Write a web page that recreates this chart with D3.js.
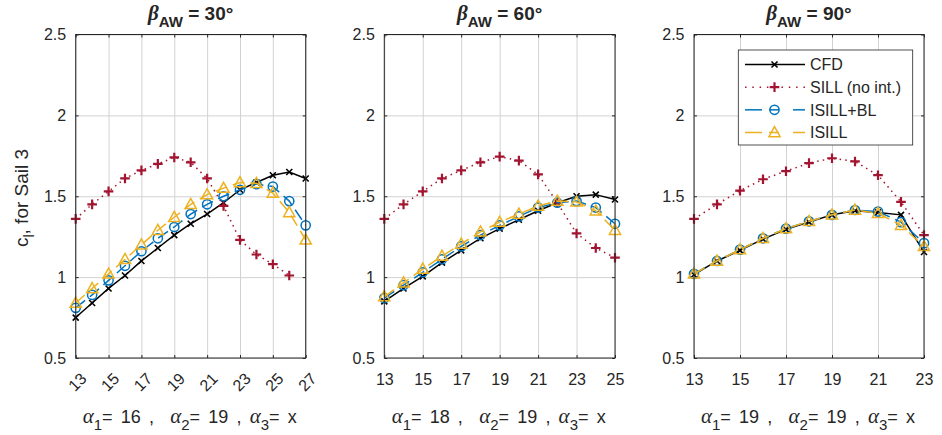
<!DOCTYPE html>
<html>
<head>
<meta charset="utf-8">
<script src="https://cdn.jsdelivr.net/npm/d3@7"></script>
<style>
  html, body { margin: 0; padding: 0; background: #fff; }
  svg { display: block; }
  text { font-family: "Liberation Sans", Arial, Helvetica, sans-serif; fill: #262626; }
</style>
</head>
<body>
<svg id="chart" width="942" height="435"></svg>
<script>
// ---------------- DATA ----------------
const yTicks = [0.5, 1, 1.5, 2, 2.5];
const seriesNames = ["CFD", "SILL (no int.)", "ISILL+BL", "ISILL"];
const betaLabels = ["30°", "60°", "90°"];
const alpha1Labels = ["16", "18", "19"];
const alpha2Labels = ["19", "19", "19"];

// beta = 30
const x30 = [13, 14, 15, 16, 17, 18, 19, 20, 21, 22, 23, 24, 25, 26, 27];
const xTicks30 = [13, 15, 17, 19, 21, 23, 25, 27];
const cfd30 = [0.75, 0.84, 0.93, 1.01, 1.10, 1.18, 1.26, 1.33, 1.39, 1.46, 1.54, 1.585, 1.63, 1.65, 1.61];
const sillX30 = [13, 14, 15, 16, 17, 18, 19, 20, 21, 22, 23, 24, 25, 26];
const sill30 = [1.36, 1.45, 1.53, 1.61, 1.66, 1.70, 1.74, 1.71, 1.61, 1.44, 1.23, 1.14, 1.08, 1.01];
const isillbl30 = [0.81, 0.89, 0.98, 1.07, 1.16, 1.24, 1.31, 1.39, 1.45, 1.50, 1.54, 1.575, 1.56, 1.47, 1.32];
const isill30 = [0.84, 0.93, 1.02, 1.11, 1.20, 1.29, 1.37, 1.45, 1.51, 1.55, 1.585, 1.58, 1.52, 1.40, 1.23];

// beta = 60
const x60 = [13, 14, 15, 16, 17, 18, 19, 20, 21, 22, 23, 24, 25];
const xTicks60 = [13, 15, 17, 19, 21, 23, 25];
const cfd60 = [0.85, 0.93, 1.005, 1.09, 1.165, 1.24, 1.30, 1.355, 1.41, 1.46, 1.50, 1.51, 1.48];
const sill60 = [1.36, 1.45, 1.53, 1.61, 1.66, 1.71, 1.745, 1.72, 1.635, 1.46, 1.27, 1.18, 1.12];
const isillbl60 = [0.87, 0.95, 1.03, 1.11, 1.19, 1.26, 1.32, 1.375, 1.43, 1.46, 1.47, 1.43, 1.33];
const isill60 = [0.88, 0.965, 1.05, 1.13, 1.205, 1.28, 1.34, 1.39, 1.44, 1.47, 1.465, 1.41, 1.29];

// beta = 90
const x90 = [13, 14, 15, 16, 17, 18, 19, 20, 21, 22, 23];
const xTicks90 = [13, 15, 17, 19, 21, 23];
const cfd90 = [1.015, 1.10, 1.165, 1.235, 1.295, 1.34, 1.385, 1.41, 1.40, 1.385, 1.155];
const sill90 = [1.36, 1.45, 1.535, 1.605, 1.655, 1.705, 1.735, 1.715, 1.63, 1.465, 1.26];
const isillbl90 = [1.02, 1.10, 1.17, 1.24, 1.30, 1.345, 1.385, 1.415, 1.405, 1.34, 1.21];
const isill90 = [1.02, 1.10, 1.17, 1.24, 1.30, 1.345, 1.385, 1.415, 1.395, 1.32, 1.19];

// ---------------- STYLE / LAYOUT ----------------
const C_CFD = "#000000", C_SILL = "#A2142F", C_BL = "#0072BD", C_IS = "#EDB120";
const AXC = "#262626", GRIDC = "#d2d2d2";
const yTop = 34.5, yBottom = 358;

const panels = [
  { left: 75.7, right: 305.7, dom: [13, 27], ticks: xTicks30, rot: true,
    cfd: [x30, cfd30], sill: [sillX30, sill30], bl: [x30, isillbl30], is: [x30, isill30] },
  { left: 384.3, right: 615, dom: [13, 25], ticks: xTicks60, rot: false,
    cfd: [x60, cfd60], sill: [x60, sill60], bl: [x60, isillbl60], is: [x60, isill60] },
  { left: 694, right: 924, dom: [13, 23], ticks: xTicks90, rot: false,
    cfd: [x90, cfd90], sill: [x90, sill90], bl: [x90, isillbl90], is: [x90, isill90] }
];

const svg = d3.select("#chart");
const y = d3.scaleLinear().domain([0.5, 2.5]).range([yBottom, yTop]);
const SERIF = "'Liberation Serif', 'Times New Roman', serif";

function mX(cx, cy, s) { return `M${cx - s},${cy - s}L${cx + s},${cy + s}M${cx - s},${cy + s}L${cx + s},${cy - s}`; }
function mPlus(cx, cy, s) { return `M${cx - s},${cy}L${cx + s},${cy}M${cx},${cy - s}L${cx},${cy + s}`; }
function mTri(cx, cy, s) { return `M${cx},${cy - s * 1.05}L${cx + s},${cy + s * 0.75}L${cx - s},${cy + s * 0.75}Z`; }

panels.forEach((p, i) => {
  const x = d3.scaleLinear().domain(p.dom).range([p.left, p.right]);
  const g = svg.append("g");
  const w = p.right - p.left, h = yBottom - yTop;

  g.append("g").attr("transform", `translate(0,${yBottom})`)
    .call(d3.axisBottom(x).tickValues(p.ticks).tickSize(-h).tickFormat(""))
    .call(a => { a.select(".domain").remove(); a.selectAll("line").attr("stroke", GRIDC).attr("stroke-width", 1); });
  g.append("g").attr("transform", `translate(${p.left},0)`)
    .call(d3.axisLeft(y).tickValues(yTicks).tickSize(-w).tickFormat(""))
    .call(a => { a.select(".domain").remove(); a.selectAll("line").attr("stroke", GRIDC).attr("stroke-width", 1); });

  const xa = g.append("g").attr("transform", `translate(0,${yBottom})`)
    .call(d3.axisBottom(x).tickValues(p.ticks).tickSize(-3).tickPadding(16).tickFormat(d3.format("d")));
  xa.select(".domain").remove();
  xa.selectAll("line").attr("stroke", AXC);
  xa.selectAll("text").style("font-size", "16px").style("font-family", "'Liberation Sans', Arial, sans-serif").attr("fill", AXC);
  if (p.rot) {
    xa.selectAll("text").attr("y", 0).attr("dy", "0.35em")
      .attr("transform", "translate(1,24) rotate(-45)");
  }
  const ya = g.append("g").attr("transform", `translate(${p.left},0)`)
    .call(d3.axisLeft(y).tickValues(yTicks).tickSize(-3).tickPadding(9.5).tickFormat(d => String(d)));
  ya.select(".domain").remove();
  ya.selectAll("line").attr("stroke", AXC);
  ya.selectAll("text").style("font-size", "16px").style("font-family", "'Liberation Sans', Arial, sans-serif").attr("fill", AXC);
  g.append("g").attr("transform", `translate(0,${yTop})`)
    .call(d3.axisTop(x).tickValues(p.ticks).tickSize(-3).tickFormat(""))
    .call(a => { a.select(".domain").remove(); a.selectAll("line").attr("stroke", AXC); });
  g.append("g").attr("transform", `translate(${p.right},0)`)
    .call(d3.axisRight(y).tickValues(yTicks).tickSize(-3).tickFormat(""))
    .call(a => { a.select(".domain").remove(); a.selectAll("line").attr("stroke", AXC); });

  const plotG = g.append("g");
  function drawSeries(pair, color, dash, marker) {
    const pts = pair[0].map((xv, k) => [xv, pair[1][k]]);
    const line = d3.line().x(d => x(d[0])).y(d => y(d[1]));
    plotG.append("path").attr("d", line(pts)).attr("fill", "none")
      .attr("stroke", color).attr("stroke-width", 1.5)
      .attr("stroke-dasharray", dash || null);
    const mg = plotG.append("g");
    pts.forEach(d => {
      const cx = x(d[0]), cy = y(d[1]);
      if (marker === "x") {
        mg.append("path").attr("d", mX(cx, cy, 3)).attr("stroke", color).attr("stroke-width", 1.6).attr("fill", "none");
      } else if (marker === "+") {
        mg.append("path").attr("d", mPlus(cx, cy, 4.8)).attr("stroke", color).attr("stroke-width", 2.2).attr("fill", "none");
      } else if (marker === "o") {
        mg.append("circle").attr("cx", cx).attr("cy", cy).attr("r", 4.6).attr("stroke", color).attr("stroke-width", 1.5).attr("fill", "none");
      } else if (marker === "^") {
        mg.append("path").attr("d", mTri(cx, cy, 5.6)).attr("stroke", color).attr("stroke-width", 1.5).attr("fill", "none");
      }
    });
  }
  drawSeries(p.cfd, C_CFD, null, "x");
  drawSeries(p.sill, C_SILL, "1.5,4.2", "+");
  drawSeries(p.bl, C_BL, "12,6", "o");
  drawSeries(p.is, C_IS, "12,6", "^");

  g.append("rect").attr("x", p.left).attr("y", yTop).attr("width", w).attr("height", h)
    .attr("fill", "none").attr("stroke", AXC).attr("stroke-width", 1);

  // title
  const cx = (p.left + p.right) / 2;
  const t = g.append("text").attr("x", cx).attr("y", 20).attr("text-anchor", "middle")
    .style("font-size", "19px").style("font-weight", "bold").style("white-space", "pre");
  t.append("tspan").text("β").style("font-family", SERIF).style("font-style", "italic").style("font-size", "21px");
  t.append("tspan").text("AW").style("font-size", "15px").attr("dy", 7);
  t.append("tspan").text(" = " + betaLabels[i]).attr("dy", -7);

  // x label
  const xl = g.append("text").attr("x", cx - 1).attr("y", 423).attr("text-anchor", "middle")
    .style("font-size", "18px").style("white-space", "pre");
  const parts = [["α", "1", "= " + alpha1Labels[i] + " ,  "], ["α", "2", "= " + alpha2Labels[i] + " , "], ["α", "3", "= x"]];
  parts.forEach(pt => {
    xl.append("tspan").text(pt[0]).style("font-family", SERIF).style("font-style", "italic").style("font-size", "21px");
    xl.append("tspan").text(pt[1]).style("font-size", "15px").attr("dy", 7);
    xl.append("tspan").text(pt[2]).attr("dy", -7);
  });
  // widen the spaces so the label spans the same width as in the reference
  const wNow = xl.node().getComputedTextLength();
  const target = 214;
  if (wNow < target) xl.style("word-spacing", ((target - wNow) / 8).toFixed(2) + "px");
});

// y label
const yl = svg.append("text").attr("transform", "translate(28,198) rotate(-90)").attr("text-anchor", "middle")
  .style("font-size", "19px").style("white-space", "pre");
yl.append("tspan").text("c");
yl.append("tspan").text("l").style("font-size", "14px").attr("dy", 6);
yl.append("tspan").text(", for Sail 3").attr("dy", -6);

// legend
const lg = svg.append("g");
const L = { x0: 738.3, y0: 50, w: 174.4, h: 95 };
lg.append("rect").attr("x", L.x0).attr("y", L.y0).attr("width", L.w).attr("height", L.h)
  .attr("fill", "#fff").attr("stroke", AXC).attr("stroke-width", 0.8);
const ly = d3.scalePoint().domain(seriesNames).range([64.5, 132.5]);
const legSpec = [
  { c: C_CFD, m: "x", segs: [[745, 805]], dash: null },
  { c: C_SILL, m: "+", segs: [[745, 805]], dash: "1.5,5.8" },
  { c: C_BL, m: "o", segs: [[745, 762], [769, 779], [793, 805]], dash: null },
  { c: C_IS, m: "^", segs: [[745, 762], [769, 779], [793, 805]], dash: null }
];
seriesNames.forEach((nm, k) => {
  const s = legSpec[k], yy = ly(nm), mx = 774.5;
  s.segs.forEach(sg => {
    lg.append("line").attr("x1", sg[0]).attr("x2", sg[1]).attr("y1", yy).attr("y2", yy)
      .attr("stroke", s.c).attr("stroke-width", 1.5).attr("stroke-dasharray", s.dash);
  });
  if (s.m === "x") lg.append("path").attr("d", mX(mx, yy, 3)).attr("stroke", s.c).attr("stroke-width", 1.6);
  if (s.m === "+") lg.append("path").attr("d", mPlus(mx, yy, 4.8)).attr("stroke", s.c).attr("stroke-width", 2.2);
  if (s.m === "o") lg.append("circle").attr("cx", mx).attr("cy", yy).attr("r", 4.6).attr("stroke", s.c).attr("stroke-width", 1.5).attr("fill", "none");
  if (s.m === "^") lg.append("path").attr("d", mTri(mx, yy, 5.6)).attr("stroke", s.c).attr("stroke-width", 1.5).attr("fill", "none");
  lg.append("text").attr("x", 810).attr("y", yy).attr("dy", "0.36em").style("font-size", "16px").text(nm);
});
</script>
</body>
</html>
